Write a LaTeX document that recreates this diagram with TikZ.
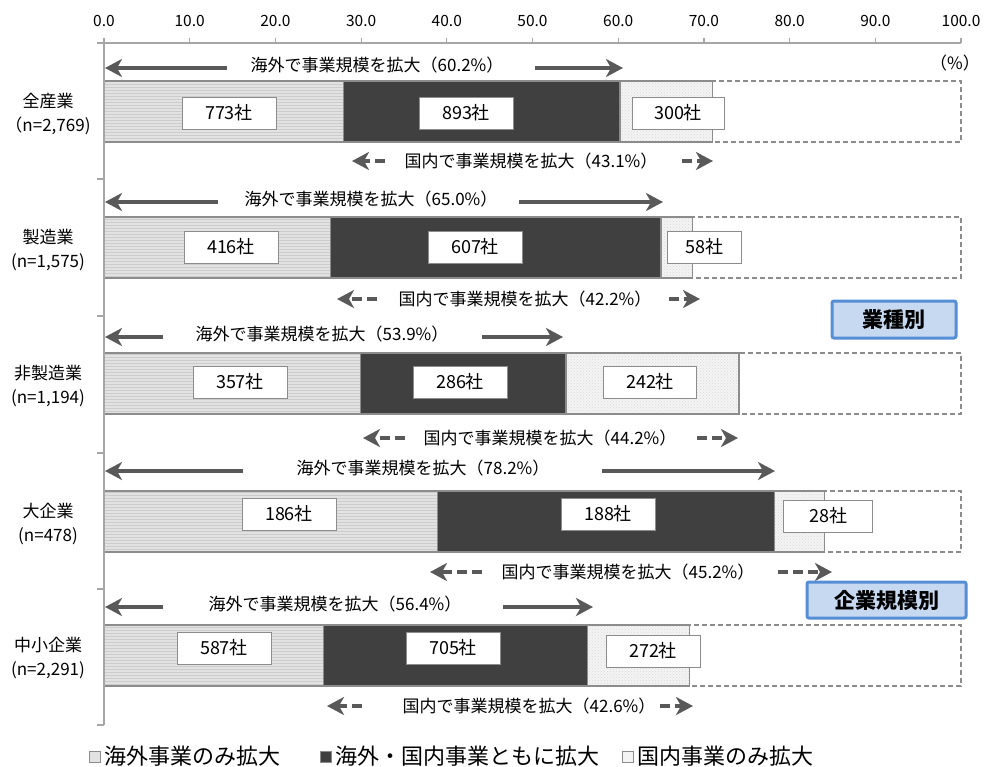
\documentclass[tikz,border=0pt]{standalone}
\usepackage{fontspec}
\setmainfont{Noto Sans CJK JP}
\usetikzlibrary{arrows.meta,patterns}
\definecolor{arrowgray}{HTML}{595959}
\definecolor{bardark}{HTML}{404040}
\definecolor{edgegray}{HTML}{8C8C8C}
\definecolor{axisgray}{HTML}{A6A6A6}
\definecolor{segone}{HTML}{E2E2E2}
\definecolor{segthree}{HTML}{F4F4F4}
\definecolor{tagfill}{HTML}{C6D9F1}
\definecolor{tagedge}{HTML}{558ED5}
\begin{document}
\begin{tikzpicture}[x=1pt,y=-1pt,
  valbox/.style={draw=edgegray, fill=white, line width=1pt, minimum height=32pt, inner sep=0pt, font=\fontsize{18}{21}\selectfont},
  arrowtext/.style={font=\fontsize{17}{20}\selectfont, inner sep=0pt},
  catlabel/.style={font=\fontsize{17}{20}\selectfont, inner sep=0pt},
  ticklabel/.style={font=\fontsize{15.5}{18}\selectfont, inner sep=0pt},
  solidarrow/.style={draw=arrowgray, line width=3.5pt, -{Stealth[length=17pt,width=18pt,inset=5pt]}},
  dasharrow/.style={solidarrow, dash pattern=on 10pt off 5pt},
  tagbox/.style={draw=tagedge, line width=3pt, fill=tagfill, rounded corners=2pt, inner sep=0pt, font=\bfseries\fontsize{21}{25}\selectfont},
  legsq/.style={draw=edgegray, line width=0.8pt, minimum size=11pt, inner sep=0pt},
  legtext/.style={font=\fontsize{22}{26}\selectfont, inner sep=0pt, anchor=west}
]
\useasboundingbox (0,0) rectangle (987,766);

% bars
\foreach \i/\top/\pa/\pb/\pc/\va/\vb/\vc/\xa/\xb/\xc/\wc/\ya/\yc in {
 1/81/27.9/60.2/71.0/773/893/300/229/466/678/92/113/113,
 2/217/26.4/65.0/68.7/416/607/58/231/475/704/74/247/247,
 3/353/29.9/53.9/74.1/357/286/242/240/460/650/93/382/382,
 4/491/38.9/78.2/84.1/186/188/28/289/608/828/89/514/516,
 5/625/25.6/56.4/68.3/587/705/272/224/453/653/94/648/651}
{
  \pgfmathsetmacro\xA{104+8.57*\pa}
  \pgfmathsetmacro\xB{104+8.57*\pb}
  \pgfmathsetmacro\xC{104+8.57*\pc}
  \pgfmathsetmacro\bot{\top+61}
  \fill[segone] (104,\top) rectangle (\xA,\bot);
  \fill[pattern=horizontal lines, pattern color=gray!40] (104,\top) rectangle (\xA,\bot);
  \fill[bardark] (\xA,\top) rectangle (\xB,\bot);
  \fill[segthree] (\xB,\top) rectangle (\xC,\bot);
  \fill[pattern=crosshatch dots, pattern color=gray!30] (\xB,\top) rectangle (\xC,\bot);
  \draw[edgegray, line width=1.2pt] (104,\top) rectangle (\xA,\bot);
  \draw[edgegray, line width=1.2pt] (\xA,\top) rectangle (\xB,\bot);
  \draw[edgegray, line width=1.2pt] (\xB,\top) rectangle (\xC,\bot);
  \draw[edgegray, line width=1.2pt, dash pattern=on 5pt off 3pt] (\xC,\top) rectangle (961,\bot);
  \node[valbox, minimum width=94pt] (va\i) at (\xa,\ya) {{\va}社};
  \node[valbox, minimum width=94pt] (vb\i) at (\xb,\ya) {{\vb}社};
  \node[valbox, minimum width=\wc pt] (vc\i) at (\xc,\yc) {{\vc}社};
}

% category labels
\foreach \i/\top/\cat/\n in {
 1/81/全産業/（n=2{,}769),
 2/217/製造業/(n=1{,}575),
 3/353/非製造業/(n=1{,}194),
 4/491/大企業/(n=478),
 5/625/中小企業/(n=2{,}291)}
{
  \node[catlabel] (cat\i) at (48,\top+20) {\cat};
  \node[catlabel] (num\i) at (48,\top+45) {\n};
}

% axes
\draw[axisgray, line width=1.2pt] (97,43) -- (961,43);
\draw[axisgray, line width=1.2pt] (104,43) -- (104,725);
\foreach \t in {179,316,453,589,725}
  \draw[axisgray, line width=1.2pt] (97,\t) -- (104,\t);
\foreach \k in {0,...,10}
{
  \pgfmathtruncatemacro\v{10*\k}
  \draw[axisgray, line width=1.2pt] (104+85.7*\k,38) -- (104+85.7*\k,43);
  \node[ticklabel] (tk\k) at (104+85.7*\k,21) {{\v}.0};
}
\node[catlabel] (unit) at (955,63) {（\%）};

% overseas arrows
\foreach \i/\y/\lt/\rt/\rtip/\tx/\pct in {
 1/68/227/535/623/377/60.2,
 2/202/218/519/663/371/65.0,
 3/337/163/482/563/322/53.9,
 4/471/243/602/775/423/78.2,
 5/607/163/503/593/335/56.4}
{
  \node[arrowtext] (ov\i) at (\tx,\y-3) {海外で事業規模を拡大（{\pct}\%）};
  \coordinate (ovlt\i) at (\lt,\y);
  \coordinate (ovlp\i) at (105,\y);
  \coordinate (ovrt\i) at (\rt,\y);
  \coordinate (ovrp\i) at (\rtip,\y);
  \draw[solidarrow] (ovlt\i) -- (ovlp\i);
  \draw[solidarrow] (ovrt\i) -- (ovrp\i);
}

% domestic arrows
\foreach \i/\y/\lp/\lt/\rt/\rp/\tx/\pct in {
 1/161/352/385/682/713/531/43.1,
 2/299/337/377/669/700/525/42.2,
 3/438/363/405/697/738/550/44.2,
 4/572/430/482/778/832/628/45.2,
 5/706/327/362/660/693/529/42.6}
{
  \node[arrowtext] (dm\i) at (\tx,\y) {国内で事業規模を拡大（{\pct}\%）};
  \coordinate (dmlt\i) at (\lt,\y);
  \coordinate (dmlp\i) at (\lp,\y);
  \coordinate (dmrt\i) at (\rt,\y);
  \coordinate (dmrp\i) at (\rp,\y);
  \draw[dasharrow] (dmlt\i) -- (dmlp\i);
  \draw[dasharrow] (dmrt\i) -- (dmrp\i);
}

% tags
\node[tagbox, minimum width=124pt, minimum height=37pt] (tag1) at (894,319.5) {業種別};
\node[tagbox, minimum width=159pt, minimum height=36pt] (tag2) at (886.5,600) {企業規模別};

% legend
\node[legsq, fill=segone] (lg1) at (95,757) {};
\node[legtext] (lt1) at (104,756) {海外事業のみ拡大};
\node[legsq, fill=bardark] (lg2) at (326,757) {};
\node[legtext] (lt2) at (335,756) {海外・国内事業ともに拡大};
\node[legsq, fill=segthree] (lg3) at (628,757) {};
\node[legtext] (lt3) at (637,756) {国内事業のみ拡大};
\end{tikzpicture}
\end{document}
